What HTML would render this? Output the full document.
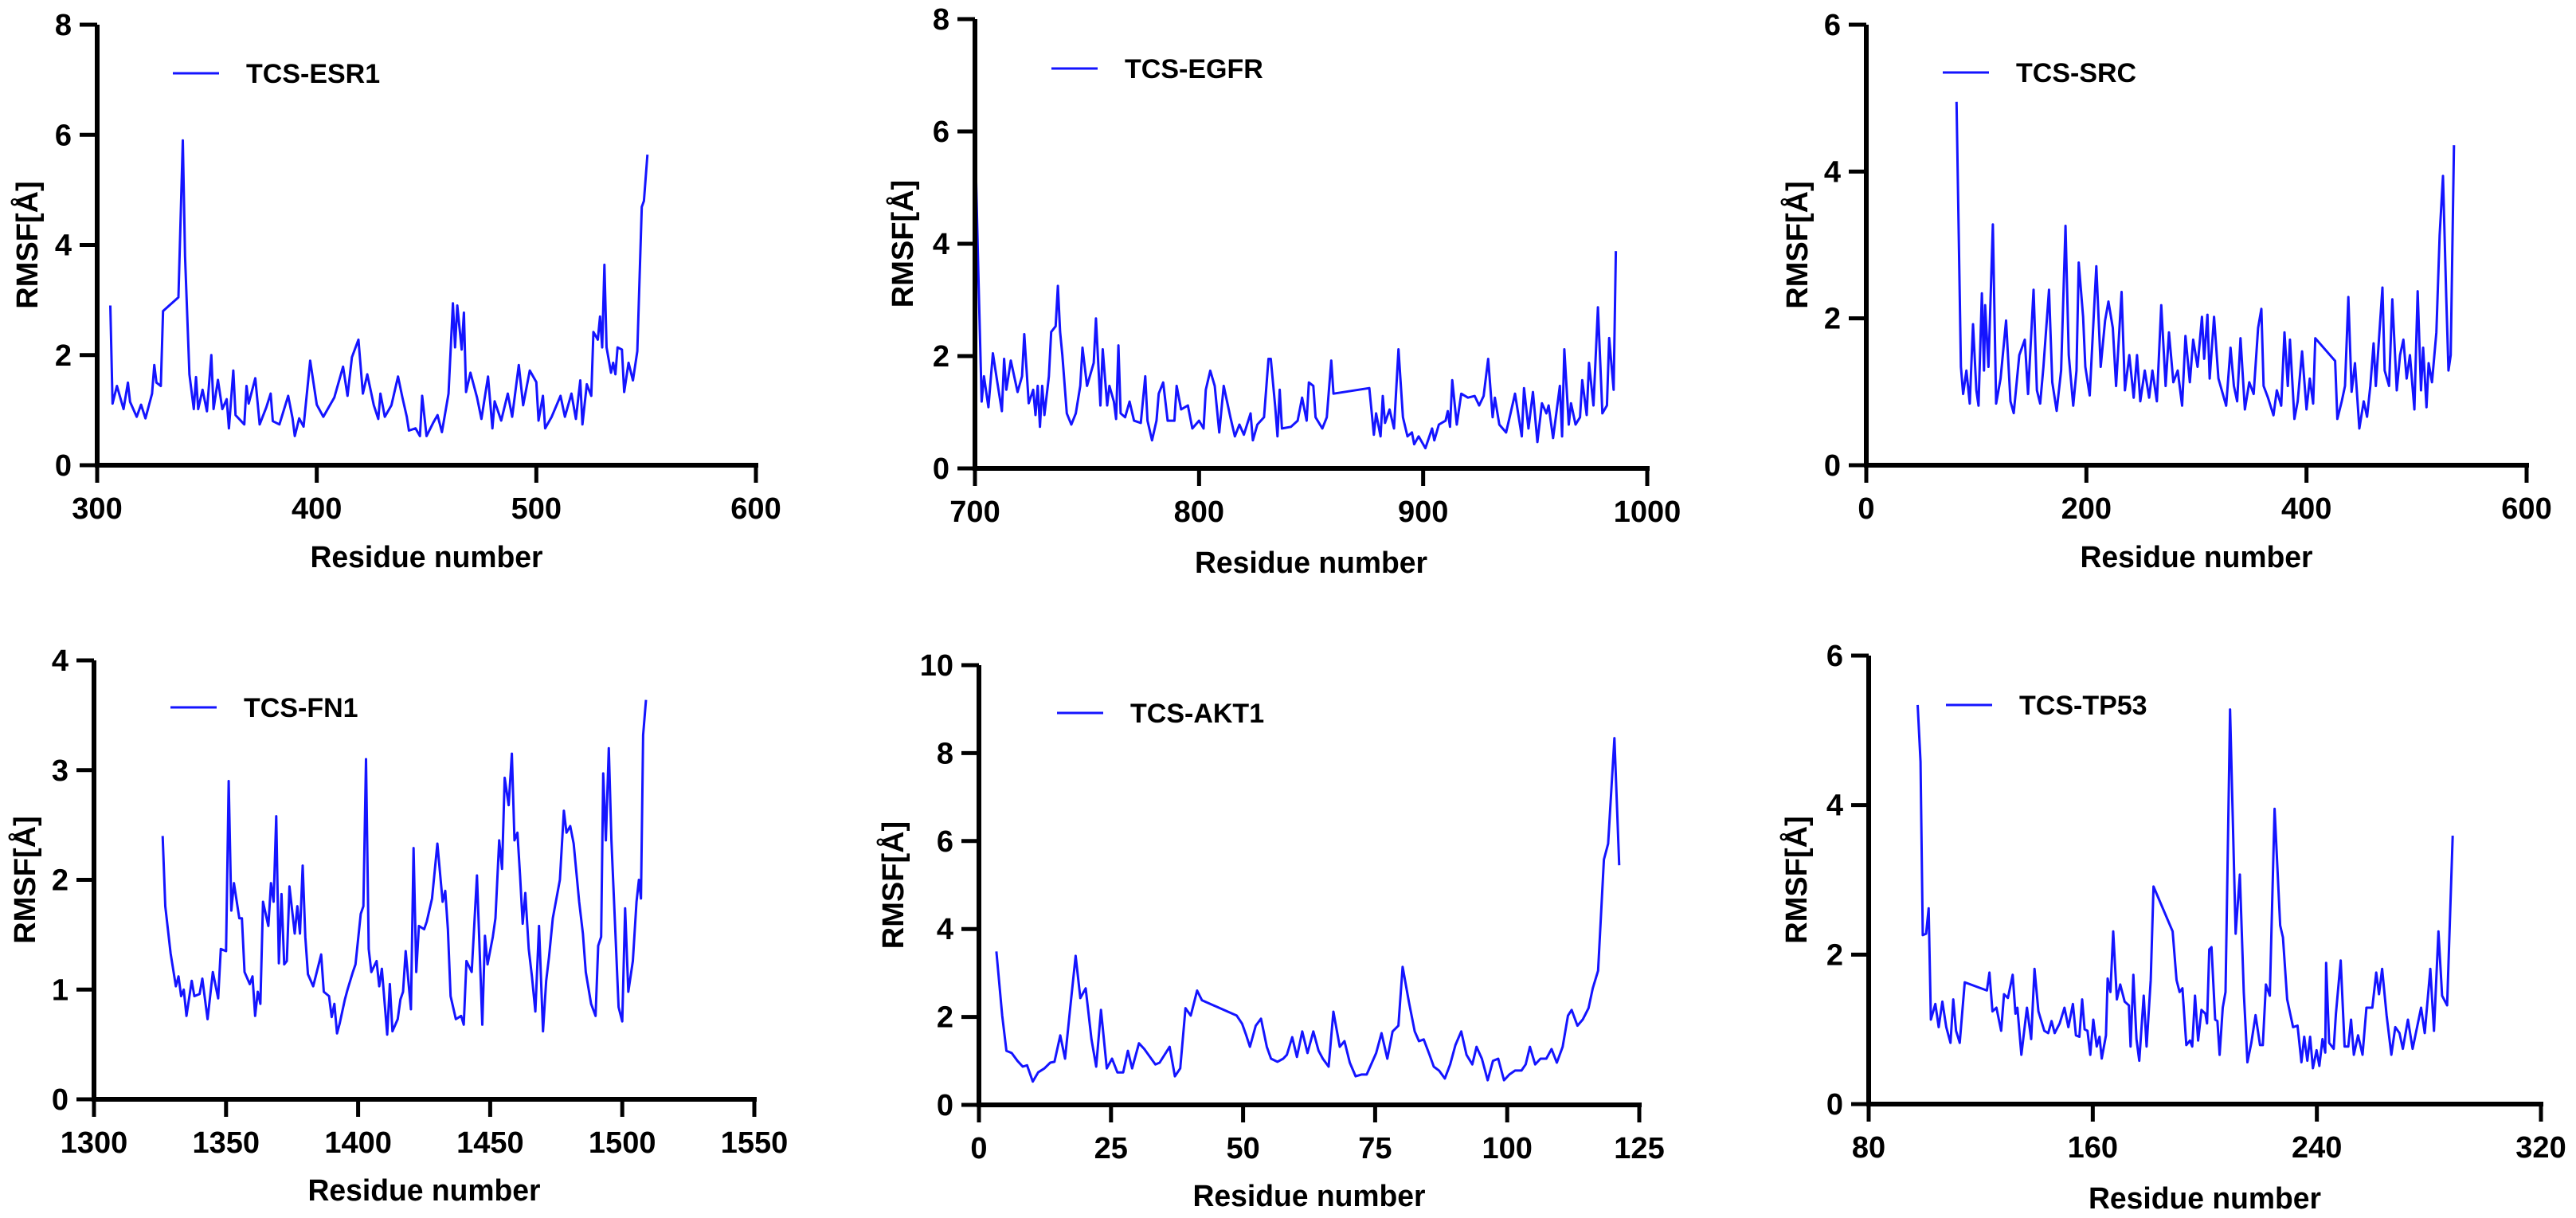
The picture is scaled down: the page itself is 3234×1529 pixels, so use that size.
<!DOCTYPE html>
<html><head><meta charset="utf-8"><style>
html,body{margin:0;padding:0;background:#fff;}
svg{display:block;font-family:"Liberation Sans",Arial,sans-serif;font-weight:bold;}
</style></head><body>
<svg id="fig" width="3234" height="1529" viewBox="0 0 3234 1529" xmlns="http://www.w3.org/2000/svg"></svg>
<script>
// ---- data ----
const esr1Res=[306,307,309,312,314,315,318,320,322,325,326,327,329,330,337,339,340,342,344,345,346,348,350,352,353,355,357,359,360,362,363,367,368,369,372,374,377,379,380,383,387,389,390,392,394,397,400,403,408,412,414,416,419,421,423,426,428,429,431,434,437,439,441,442,445,447,448,450,453,455,457,460,462,463,464,466,467,468,470,473,475,478,480,481,484,487,489,492,494,497,500,501,503,504,507,511,513,516,518,520,521,523,525,526,528,529,530,531,532,534,535,536,537,539,540,542,544,546,548,549,550.6];
const esr1Val=[2.9,1.12,1.44,1.02,1.5,1.15,0.88,1.1,0.85,1.3,1.82,1.5,1.44,2.8,3.05,5.9,3.8,1.65,1.02,1.6,1.02,1.37,0.98,2.0,1.02,1.55,1.02,1.2,0.67,1.72,0.91,0.74,1.44,1.12,1.58,0.74,1.05,1.3,0.8,0.74,1.26,0.85,0.53,0.85,0.7,1.9,1.1,0.88,1.23,1.79,1.26,1.96,2.28,1.3,1.65,1.09,0.84,1.3,0.88,1.09,1.61,1.23,0.88,0.63,0.67,0.53,1.26,0.53,0.77,0.91,0.6,1.3,2.94,2.14,2.9,2.1,2.77,1.33,1.68,1.23,0.84,1.61,0.67,1.16,0.81,1.3,0.88,1.82,1.09,1.72,1.51,0.81,1.26,0.67,0.88,1.26,0.88,1.3,0.84,1.54,0.74,1.47,1.26,2.42,2.28,2.7,2.14,3.64,2.14,1.68,1.86,1.65,2.14,2.1,1.33,1.86,1.54,2.07,4.69,4.8,5.64];
const egfrRes=[700,701.5,703,704,706,708,710,712,713,714,716,719,721,722,724,726,727,728,729,730,731,733,734,736,737,738,739,741,743,745,747,748,750,753,754,756,757,759,760,762,763,764,765,767,769,771,774,776,777,779,781,782,784,786,789,790,792,795,797,800,802,803,805,807,809,811,814,816,818,820,823,824,826,829,831,832,834,835,836,837,841,844,846,848,849,851,852,855,857,859,860,876,878,879,881,882,883,885,887,889,891,893,895,896,898,901,904,905,907,910,911,912,913,915,917,920,923,925,927,929,931,932,934,937,939,941,944,945,947,949,951,953,955,956,958,961,962,963,965,966,968,970,971,973,974,976,978,980,982,983,985,986];
const egfrVal=[6.0,3.5,1.19,1.64,1.09,2.05,1.53,1.02,1.95,1.4,1.92,1.36,1.64,2.39,1.16,1.4,0.95,1.47,0.74,1.47,0.95,1.64,2.43,2.53,3.25,2.43,2.02,0.98,0.78,0.98,1.47,2.15,1.47,1.88,2.67,1.12,2.12,1.12,1.47,1.19,0.88,2.19,0.98,0.91,1.19,0.85,0.81,1.64,0.85,0.5,0.85,1.33,1.53,0.85,0.85,1.47,1.05,1.12,0.71,0.85,0.71,1.4,1.74,1.47,0.64,1.47,0.91,0.57,0.78,0.6,0.98,0.5,0.78,0.91,1.95,1.95,1.09,0.57,1.4,0.71,0.74,0.85,1.26,0.85,1.53,1.47,0.91,0.71,0.91,1.92,1.33,1.43,0.6,0.98,0.57,1.29,0.81,1.05,0.71,2.12,0.91,0.57,0.64,0.43,0.57,0.36,0.71,0.5,0.78,0.85,1.02,0.74,1.57,0.78,1.33,1.26,1.29,1.12,1.29,1.95,0.91,1.26,0.78,0.64,0.98,1.33,0.57,1.43,0.71,1.36,0.47,1.16,0.98,1.12,0.54,1.47,0.57,2.12,0.78,1.16,0.78,0.91,1.57,0.95,1.88,1.12,2.87,0.98,1.12,2.32,1.4,3.87];
const srcRes=[82,86,88,91,94,97,100,102,105,107,108,111,115,118,122,127,131,134,139,144,147,152,155,158,161,166,169,173,177,181,184,188,191,193,197,199,203,207,209,213,217,220,224,227,229,232,235,239,243,246,249,253,257,260,264,268,272,275,279,283,287,290,294,297,301,305,307,310,312,316,320,323,327,331,334,337,340,344,348,352,356,359,361,365,370,373,377,380,383,385,389,392,396,400,403,406,408,426,428,432,435,438,441,444,448,452,455,458,461,463,466,469,471,475,478,482,485,488,491,494,498,501,504,506,509,511,514,518,521,524,527,529,531,534];
const srcVal=[4.95,1.34,0.97,1.29,0.84,1.92,1.02,0.81,2.34,1.29,2.18,1.34,3.28,0.84,1.18,1.97,0.87,0.71,1.5,1.71,0.97,2.39,1.02,0.84,1.34,2.39,1.13,0.74,1.29,3.26,1.5,0.81,1.29,2.76,2.02,1.34,0.95,2.13,2.71,1.34,1.97,2.23,1.87,1.08,1.6,2.36,1.02,1.5,0.92,1.5,0.87,1.29,0.92,1.29,0.87,2.18,1.08,1.81,1.13,1.29,0.81,1.76,1.13,1.71,1.34,2.02,1.45,2.05,1.18,2.02,1.18,1.02,0.81,1.6,1.08,0.87,1.73,0.76,1.13,0.97,1.87,2.13,1.08,0.92,0.68,1.02,0.81,1.81,1.08,1.71,0.63,0.87,1.55,0.76,1.18,0.84,1.73,1.42,0.63,0.87,1.08,2.29,1.0,1.39,0.5,0.87,0.66,1.08,1.66,1.08,1.76,2.42,1.29,1.08,2.26,1.02,1.5,1.71,1.18,1.5,0.76,2.37,1.02,1.6,0.79,1.39,1.13,1.81,3.13,3.94,2.29,1.29,1.5,4.36];
const fn1Res=[1326,1327,1329,1331,1332,1333,1334,1335,1337,1338,1340,1341,1343,1345,1347,1348,1350,1351,1352,1353,1355,1356,1357,1359,1360,1361,1362,1363,1364,1366,1367,1368,1369,1370,1371,1372,1373,1374,1376,1377,1378,1379,1380,1381,1383,1386,1387,1389,1390,1391,1392,1393,1395,1396,1398,1399,1401,1402,1403,1404,1405,1407,1408,1409,1411,1412,1413,1415,1416,1417,1418,1420,1421,1422,1423,1425,1426,1428,1430,1432,1433,1434,1435,1437,1439,1440,1441,1443,1445,1447,1448,1449,1451,1452,1453.4,1454.5,1455.5,1457,1458.2,1459.2,1460.3,1461.3,1462.3,1463.3,1464.6,1465.8,1467.1,1468.5,1470,1471.2,1472.3,1473.7,1476.4,1477.9,1478.9,1480.3,1481.6,1483.7,1485.1,1486.2,1488.2,1489.9,1490.9,1492,1492.8,1493.8,1494.9,1495.9,1498.6,1500,1501.1,1502.3,1504,1505.4,1506.3,1507.1,1507.9,1509];
const fn1Val=[2.4,1.76,1.33,1.03,1.12,0.94,1.0,0.76,1.08,0.94,0.96,1.1,0.73,1.16,0.92,1.37,1.35,2.9,1.72,1.97,1.65,1.65,1.16,1.05,1.12,0.76,0.98,0.87,1.8,1.58,1.97,1.8,2.58,1.24,1.87,1.23,1.26,1.94,1.51,1.76,1.51,2.13,1.48,1.14,1.03,1.32,0.98,0.94,0.75,0.87,0.6,0.69,0.91,1.0,1.16,1.23,1.69,1.76,3.1,1.37,1.16,1.26,1.03,1.19,0.59,1.05,0.62,0.73,0.91,0.98,1.35,0.82,2.29,1.16,1.58,1.55,1.62,1.83,2.33,1.8,1.9,1.55,0.94,0.73,0.76,0.68,1.26,1.16,2.04,0.68,1.49,1.23,1.48,1.65,2.36,2.1,2.93,2.68,3.15,2.36,2.43,2.04,1.6,1.88,1.37,1.12,0.8,1.58,0.62,1.08,1.3,1.65,2.0,2.63,2.43,2.49,2.33,1.8,1.51,1.16,0.87,0.76,1.4,1.48,2.97,2.36,3.2,2.36,0.84,0.71,1.74,0.98,1.26,1.8,2.0,1.83,3.32,3.64];
const akt1Res=[3.3,4.4,5.2,6.2,7.3,8.3,9.1,10.2,11.2,12.4,13.5,14.3,15.4,16.3,17.2,18.3,19.2,20.2,21.3,22.2,23.1,24.2,25.2,26.2,27.3,28.2,29,30.3,31.3,33.4,34.2,36.1,37.1,38.1,39.1,40.1,41.3,42.2,48.8,49.8,50.6,51.3,52.4,53.4,54.5,55.3,56.5,57.6,58.3,59.3,60.2,61.2,62.2,63.3,64.3,65.1,66.2,67.1,68.3,69.2,70.2,71.3,72.4,73.4,75.2,76.2,77.3,78.3,79.4,80.2,81.4,82.5,83.3,84.2,85.3,86.1,87.1,88.2,89.2,90.2,91.3,92.3,93.4,94.2,95.2,96.3,97.3,98.3,99.4,100.4,101.5,102.7,103.5,104.3,105.3,106.3,107.4,108.4,109.4,110.5,111.5,112.2,113.3,114.3,115.4,116.2,117.2,118.3,119.1,120.3,121.2];
const akt1Val=[3.49,2.03,1.23,1.18,1.0,0.87,0.9,0.53,0.74,0.83,0.96,0.98,1.58,1.05,2.12,3.39,2.43,2.65,1.49,0.87,2.16,0.83,1.05,0.74,0.74,1.23,0.83,1.4,1.27,0.92,0.96,1.32,0.65,0.83,2.2,2.03,2.6,2.38,2.03,1.85,1.58,1.32,1.8,1.96,1.32,1.05,0.98,1.05,1.14,1.54,1.09,1.67,1.18,1.67,1.23,1.05,0.87,2.12,1.32,1.45,0.96,0.65,0.69,0.69,1.18,1.63,1.05,1.67,1.8,3.14,2.34,1.67,1.45,1.49,1.14,0.87,0.78,0.6,0.92,1.36,1.67,1.14,0.92,1.32,1.05,0.56,1.0,1.05,0.56,0.69,0.78,0.78,0.92,1.32,0.92,1.05,1.05,1.27,0.96,1.32,2.03,2.16,1.8,1.94,2.2,2.65,3.05,5.58,5.94,8.34,5.45];
const tp53Res=[97.5,98.5,99.3,100.5,101.4,102.2,103.8,105,106.3,107.7,109.2,110.2,111.2,112.5,114.3,122.2,123.1,124.2,125.6,127.3,128.3,129.7,131.4,132.4,133.1,134.5,136.5,138,139.2,140.6,142.7,144.1,145.3,146.4,148.2,149.9,151.3,152.9,154,155.2,156.2,157.1,158.1,159.1,160.2,161.4,162.4,163.2,164.7,165.3,166.3,167.3,168.6,169.8,171.4,172.9,173.5,174.5,175.6,176.6,178.2,179.2,180.7,181.7,188.5,189.9,191,192,193.4,194.7,195.5,196.5,197.6,198.8,200.2,200.8,201.6,202.4,203.7,204.5,205.3,206.4,207.4,209,211,212.5,213.9,215.2,216.6,218.1,219.7,220.7,221.8,223.2,224.9,226.9,227.9,229.4,231.5,233.1,234.5,235.5,236.6,237.6,238.6,239.9,240.9,242,243,243.3,244.4,246,246.8,248.5,249.9,251.2,252.2,253.2,254.7,256.3,257.7,259.8,261.2,262.2,263.3,264.9,266.6,268,269.5,270.7,272.5,274.2,277.2,278.5,280.5,281.8,283.4,284.7,286.5,288.5];
const tp53Val=[5.34,4.58,2.26,2.28,2.62,1.13,1.34,1.03,1.37,1.03,0.82,1.4,0.98,0.82,1.63,1.52,1.76,1.24,1.29,0.98,1.47,1.42,1.73,1.21,1.29,0.66,1.29,0.87,1.81,1.24,0.98,0.95,1.11,0.95,1.08,1.29,1.03,1.34,0.92,0.9,1.4,1.0,0.98,0.66,1.13,0.77,0.9,0.61,0.92,1.68,1.5,2.31,1.4,1.6,1.37,1.32,0.77,1.73,0.87,0.58,1.45,0.77,1.66,2.91,2.31,1.66,1.5,1.55,0.79,0.85,0.77,1.45,0.85,1.26,1.21,1.08,2.07,2.1,1.13,1.11,0.66,1.29,1.5,5.28,2.28,3.07,1.5,0.56,0.82,1.19,0.79,0.79,1.6,1.45,3.95,2.39,2.23,1.4,1.03,1.05,0.56,0.9,0.58,0.9,0.48,0.72,0.51,0.87,0.69,1.89,0.82,0.74,1.21,1.92,0.77,0.77,1.13,0.66,0.92,0.66,1.29,1.29,1.76,1.47,1.81,1.19,0.66,1.03,0.95,0.74,1.13,0.74,1.29,0.95,1.81,0.98,2.31,1.45,1.32,3.59];
const legendNames=["TCS-ESR1","TCS-EGFR","TCS-SRC","TCS-FN1","TCS-AKT1","TCS-TP53"];
const xTicks1=[300,400,500,600], yTicks1=[0,2,4,6,8];
const xTicks2=[700,800,900,1000], yTicks2=[0,2,4,6,8];
const xTicks3=[0,200,400,600], yTicks3=[0,2,4,6];
const xTicks4=[1300,1350,1400,1450,1500,1550], yTicks4=[0,1,2,3,4];
const xTicks5=[0,25,50,75,100,125], yTicks5=[0,2,4,6,8,10];
const xTicks6=[80,160,240,320], yTicks6=[0,2,4,6];

// ---- layout ----
const panels=[
 {key:"esr1",res:esr1Res,val:esr1Val,xt:xTicks1,yt:yTicks1,x0:122,x1:949,yb:584,ytp:31,lgY:92,lgX:217,ylx:34,xlY:712},
 {key:"egfr",res:egfrRes,val:egfrVal,xt:xTicks2,yt:yTicks2,x0:1224,x1:2068,yb:588,ytp:24,lgY:86,lgX:1320,ylx:1133,xlY:719},
 {key:"src",res:srcRes,val:srcVal,xt:xTicks3,yt:yTicks3,x0:2343,x1:3172,yb:584,ytp:31,lgY:91,lgX:2439,ylx:2256,xlY:712},
 {key:"fn1",res:fn1Res,val:fn1Val,xt:xTicks4,yt:yTicks4,x0:118,x1:947,yb:1380,ytp:829,lgY:888,lgX:214,ylx:31,xlY:1507},
 {key:"akt1",res:akt1Res,val:akt1Val,xt:xTicks5,yt:yTicks5,x0:1229,x1:2058,yb:1387,ytp:835,lgY:895,lgX:1327,ylx:1121,xlY:1514},
 {key:"tp53",res:tp53Res,val:tp53Val,xt:xTicks6,yt:yTicks6,x0:2346,x1:3190,yb:1386,ytp:823,lgY:885,lgX:2443,ylx:2255,xlY:1517}
];
const NS="http://www.w3.org/2000/svg";
const svg=document.getElementById("fig");
function mk(tag,attrs,parent){const e=document.createElementNS(NS,tag);for(const k in attrs)e.setAttribute(k,attrs[k]);(parent||svg).appendChild(e);return e;}
panels.forEach((p,i)=>{
  const g=mk("g",{});
  
  
  const xmin=p.xt[0],xmax=p.xt[p.xt.length-1],ymax=p.yt[p.yt.length-1];
  const sx=v=>p.x0+(v-xmin)/(xmax-xmin)*(p.x1-p.x0);
  const sy=v=>p.yb-(v/ymax)*(p.yb-p.ytp);
  // series
  let d="";
  p.res.forEach((r,k)=>{d+=(k?"L":"M")+sx(r).toFixed(1)+","+sy(p.val[k]).toFixed(1);});
  const line=mk("path",{d:d,fill:"none",stroke:"#1414ff","stroke-width":3,"stroke-linejoin":"round"},g);
  
  
  // axes
  const ya=mk("line",{x1:p.x0,y1:p.ytp,x2:p.x0,y2:p.yb+3,stroke:"#000","stroke-width":6},g);
  
  
  const xa=mk("line",{x1:p.x0-3,y1:p.yb,x2:p.x1+3,y2:p.yb,stroke:"#000","stroke-width":6},g);
  
  
  p.yt.forEach(v=>{
    const y=sy(v);
    const t=mk("line",{x1:p.x0-22,y1:y,x2:p.x0,y2:y,stroke:"#000","stroke-width":5},g);
    
    
    const lb=mk("text",{x:p.x0-32,y:y+13,"text-anchor":"end","font-size":38,fill:"#000"},g);
    lb.textContent=v;
    
    
  });
  p.xt.forEach(v=>{
    const x=sx(v);
    const t=mk("line",{x1:x,y1:p.yb,x2:x,y2:p.yb+22,stroke:"#000","stroke-width":5},g);
    
    
    const lb=mk("text",{x:x,y:p.yb+67,"text-anchor":"middle","font-size":38,fill:"#000"},g);
    lb.textContent=v;
    
    
  });
  const xl=mk("text",{x:(p.x0+p.x1)/2,y:p.xlY,"text-anchor":"middle","font-size":38,fill:"#000",textLength:292,lengthAdjust:"spacingAndGlyphs"},g);
  xl.textContent="Residue number";
  
  
  const cy=(p.yb+p.ytp)/2;
  const yl=mk("text",{x:0,y:0,"text-anchor":"middle","font-size":38,fill:"#000",transform:`translate(${p.ylx+13},${cy}) rotate(-90)`},g);
  yl.textContent="RMSF[Å]";
  
  
  const lg=mk("g",{},g);
  
  
  mk("line",{x1:p.lgX,y1:p.lgY,x2:p.lgX+58,y2:p.lgY,stroke:"#1414ff","stroke-width":3},lg);
  const lt=mk("text",{x:p.lgX+92,y:p.lgY+12,"font-size":34,fill:"#000"},lg);
  lt.textContent=legendNames[i];
});
</script>
</body></html>
